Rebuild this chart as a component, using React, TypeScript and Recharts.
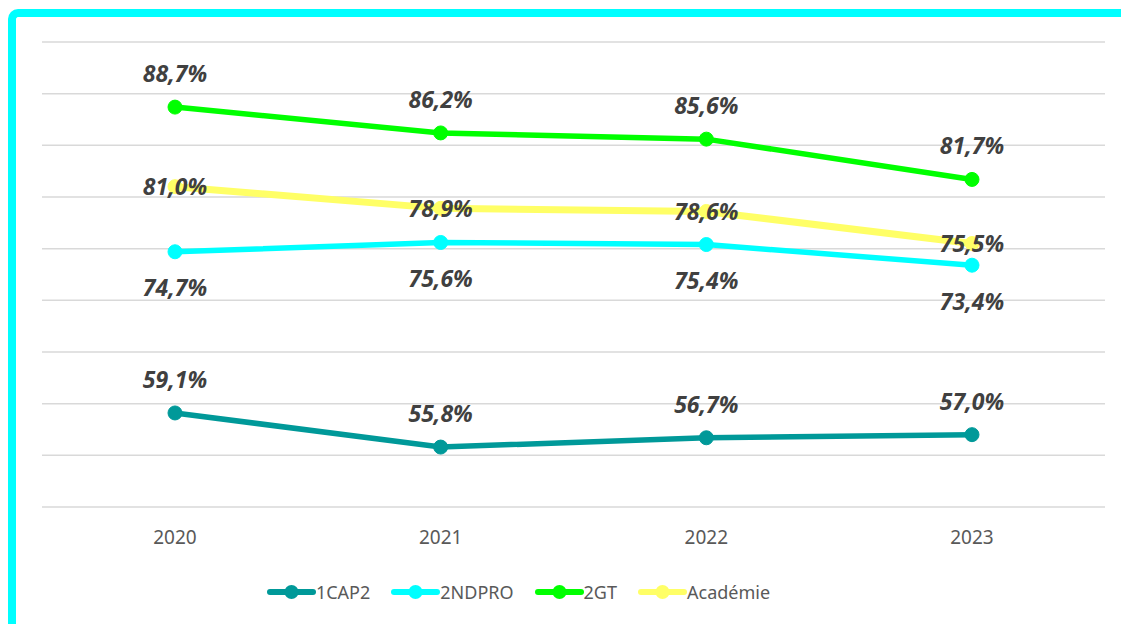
import React from "react";
import {
  CartesianGrid,
  LabelList,
  Legend,
  Line,
  LineChart,
  XAxis,
  YAxis,
} from "recharts";

const years = ["2020", "2021", "2022", "2023"];
const cap2 = [59.1, 55.8, 56.7, 57.0];
const ndpro = [74.7, 75.6, 75.4, 73.4];
const gt = [88.7, 86.2, 85.6, 81.7];
const academie = [81.0, 78.9, 78.6, 75.5];
const yTicks = [50, 55, 60, 65, 70, 75, 80, 85, 90, 95];

const data = years.map((year, i) => ({
  year,
  cap2: cap2[i],
  ndpro: ndpro[i],
  gt: gt[i],
  academie: academie[i],
}));

const series = [
  { key: "cap2", name: "1CAP2", color: "#009999", label: "top" },
  { key: "ndpro", name: "2NDPRO", color: "#00FFFF", label: "bottom" },
  { key: "gt", name: "2GT", color: "#00FF00", label: "top" },
  { key: "academie", name: "Académie", color: "#FFFF66", label: "center" },
] as const;

const FONT = "'Noto Sans', 'Open Sans', sans-serif";
const fmt = (v: number) => v.toFixed(1).replace(".", ",") + "%";

function ChartLegend() {
  return (
    <div
      style={{
        display: "flex",
        justifyContent: "center",
        alignItems: "center",
        gap: 21,
        fontFamily: FONT,
        fontSize: 18,
        color: "#595959",
      }}
    >
      {series.map((s) => (
        <div key={s.key} style={{ display: "flex", alignItems: "center" }}>
          <svg width={49} height={20}>
            <line
              x1={3}
              x2={46}
              y1={10}
              y2={10}
              stroke={s.color}
              strokeWidth={6}
              strokeLinecap="round"
            />
            <circle cx={24.5} cy={10} r={7} fill={s.color} />
          </svg>
          <span>{s.name}</span>
        </div>
      ))}
    </div>
  );
}

export default function App() {
  return (
    <div
      style={{
        position: "fixed",
        left: 8,
        top: 9,
        width: 1113,
        height: 615,
        borderTop: "8px solid #00FFFF",
        borderLeft: "8px solid #00FFFF",
        borderTopLeftRadius: 10,
        boxSizing: "border-box",
        background: "#fff",
      }}
    >
      <LineChart
        width={1105}
        height={599}
        data={data}
        margin={{ top: 25, right: 16, left: 26, bottom: 79 }}
      >
        <CartesianGrid
          vertical={false}
          stroke="#d9d9d9"
          strokeWidth={1.5}
        />
        <XAxis
          dataKey="year"
          axisLine={false}
          tickLine={false}
          tickSize={0}
          tickMargin={24}
          height={30}
          padding={{ left: 133, right: 133 }}
          tick={{ fontFamily: FONT, fontSize: 19, fill: "#595959" }}
        />
        <YAxis hide domain={[50, 95]} ticks={yTicks} />
        {series.map((s) => (
          <Line
            key={s.key}
            dataKey={s.key}
            name={s.name}
            type="linear"
            stroke={s.color}
            strokeWidth={s.key === "academie" ? 7 : 5.5}
            dot={{ r: 7, fill: s.color, stroke: s.color, strokeWidth: 1 }}
            activeDot={false}
            isAnimationActive={false}
          >
            <LabelList
              dataKey={s.key}
              position={s.label}
              offset={s.label === "top" ? 25 : s.label === "bottom" ? 28 : 0}
              formatter={(v: any) => fmt(Number(v))}
              style={{
                fontFamily: FONT,
                fontSize: 23,
                fontWeight: 700,
                fontStyle: "italic",
                fill: "#404040",
              }}
            />
          </Line>
        ))}
        <Legend
          verticalAlign="middle"
          align="center"
          layout="horizontal"
          content={() => <ChartLegend />}
          wrapperStyle={{ left: 0, top: 563, width: 1005 }}
        />
      </LineChart>
    </div>
  );
}
